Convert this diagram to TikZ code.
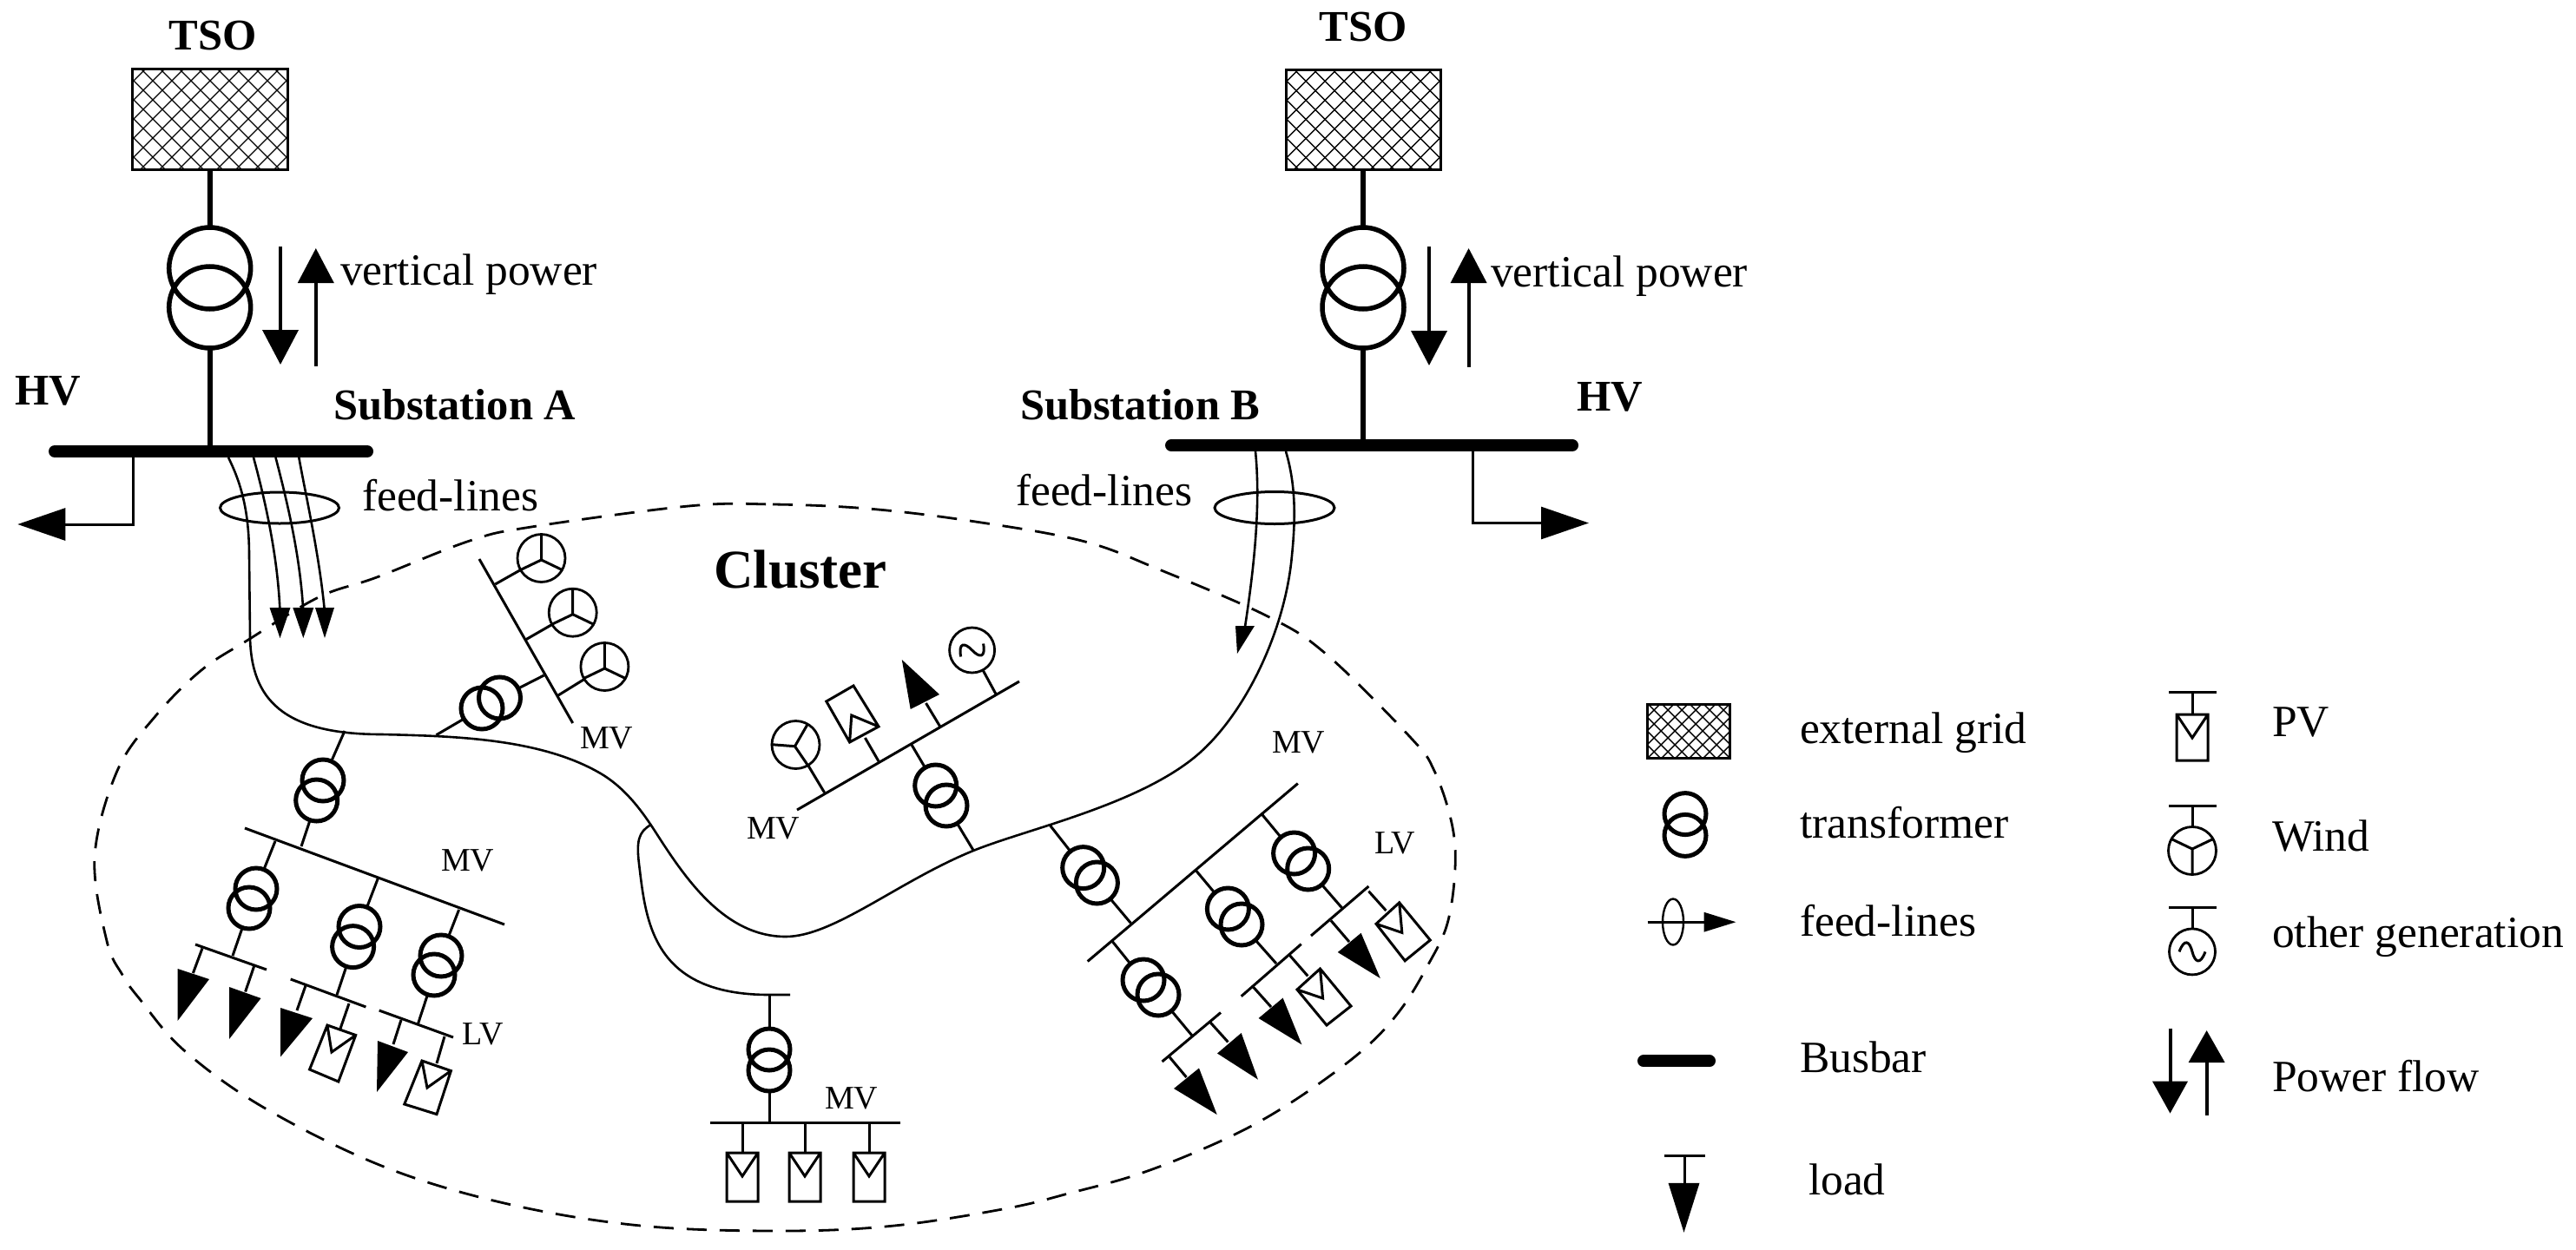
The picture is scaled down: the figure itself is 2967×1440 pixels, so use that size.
\documentclass[tikz,border=0pt]{standalone}
\usepackage{fontspec}
\setmainfont{Liberation Serif}
\usetikzlibrary{calc,arrows.meta,shapes.geometric}
\newcommand{\fA}{\fontsize{51.5}{60}\selectfont}
\newcommand{\fB}{\fontsize{50.5}{60}\selectfont\bfseries}
\newcommand{\fC}{\fontsize{38}{44}\selectfont}
\newcommand{\fD}{\fontsize{63}{70}\selectfont\bfseries}
\tikzset{
 wirew/.style={line width=3pt},
 feedw/.style={line width=2.6pt},
 heavyw/.style={line width=6pt},
 shaftw/.style={line width=4pt},
 busline/.style={line width=14pt,line cap=round},
 txt/.style={anchor=base west,inner sep=0pt,outer sep=0pt},
 xfsmall/.style={circle,draw,line width=5pt,minimum size=48pt,inner sep=0pt,outer sep=0pt},
 xfbig/.style={circle,draw,line width=5.5pt,minimum size=94pt,inner sep=0pt,outer sep=0pt},
 gencirc/.style={circle,draw,line width=2.8pt,minimum size=#1,inner sep=0pt,outer sep=0pt},
 gencirc/.default=55pt,
 ringoval/.style={ellipse,draw,line width=3pt,inner sep=0pt,outer sep=0pt},
 gridbox/.style={draw,line width=3pt,inner sep=0pt,outer sep=0pt,path picture={
   \foreach \k in {-12,...,12}{
     \draw[line width=1.4pt] ($(path picture bounding box.center)+(\k*#1,0)+(-200,-200)$) -- ++(400,400);
     \draw[line width=1.4pt] ($(path picture bounding box.center)+(\k*#1,0)+(-200,200)$) -- ++(400,-400);
   }}},
 bigup/.style={-{Triangle[length=40pt,width=41pt]}},
 stubtip/.style={-{Triangle[length=55pt,width=37pt]}},
}
\newcommand{\seg}[2]{\coordinate (sa) at (#1); \coordinate (sb) at (#2); \draw[wirew] (sa) -- (sb);}
\newcommand{\xf}[5]{%
  \node[xfsmall] (#1a) at (#2) {}; \node[xfsmall] (#1b) at (#3) {};
  \coordinate (#1p) at (#4); \coordinate (#1q) at (#5);
  \draw[wirew] (#1p) -- (#1a); \draw[wirew] (#1b) -- (#1q);}
\newcommand{\loadtri}[3]{\fill (#1) -- (#2) -- (#3) -- cycle;}
\newcommand{\pvsym}[5]{\draw[wirew,line join=miter] (#1) -- (#2) -- (#3) -- (#4) -- cycle (#1) -- (#5) -- (#2);}
\newcommand{\wind}[3]{%
  \node[gencirc] (#1) at (#2) {};
  \begin{scope}[shift={(#2)},rotate=#3]
    \draw[wirew] (0,2) -- (0,-27) (0,2) -- (25,14) (0,2) -- (-25,14);
  \end{scope}}
\newcommand{\sinewave}[3]{%
  \begin{scope}[shift={(#1)},rotate=#2,scale=#3]
    \draw[wirew] (-15,0) .. controls (-9,-16) and (-3,-12) .. (0,0) .. controls (3,12) and (9,16) .. (15,0);
  \end{scope}}
\begin{document}
\begin{tikzpicture}[x=1pt,y=-1pt]
\useasboundingbox (0,0) rectangle (2967,1440);

% ---- cluster boundary
\draw[line width=2.8pt,dash pattern=on 23pt off 15pt] plot[smooth cycle,tension=.6] coordinates {
 (793,583) (890,581) (1000,586) (1117,600) (1246,623) (1335,656) (1460,710) (1528,754) (1625,850) (1652,888) (1672,948) (1676,1000)
 (1667,1064) (1644,1113) (1614,1162) (1575,1205) (1514,1252) (1449,1293) (1380,1326) (1307,1354) (1234,1374) (1160,1392) (1030,1412)
 (900,1418) (738,1412) (585,1387) (442,1344) (304,1276) (212,1210) (161,1151) (141,1123) (123,1084) (109,987) (135,888)
 (179,825) (232,772) (286,737) (367,688) (434,665) (541,623) (612,607)};
\node[txt] (clusterl) at (822,677) {\fD Cluster};

% ---- substation A
\node[gridbox=22,minimum width=178.6pt,minimum height=116pt] (tsoA) at (242,137) {};
\node[txt,anchor=base] (tsoAl) at (245,57) {\fB TSO};
\node[xfbig] (xA1) at (241.7,309) {};
\node[xfbig] (xA2) at (241.7,354) {};
\coordinate (bA1) at (63,520); \coordinate (bA2) at (423,520);
\draw[busline] (bA1) -- (bA2);
\draw[heavyw] (tsoA) -- (xA1);
\draw[heavyw] (xA2) -- (xA2 |- bA1);
\coordinate (dA1) at (323,284); \coordinate (dA2) at (323,420);
\coordinate (uA1) at (363.8,422); \coordinate (uA2) at (363.8,286);
\draw[shaftw,bigup] (dA1) -- (dA2);
\draw[shaftw,bigup] (uA1) -- (uA2);
\node[txt] (vpA) at (392,328) {\fA vertical power};
\node[txt] (hvA) at (17,466) {\fB HV};
\node[txt] (subA) at (384,483) {\fB Substation A};
\coordinate (sA1) at (153.8,525); \coordinate (sA2) at (153.8,604); \coordinate (sA3) at (20.3,604);
\draw[wirew,stubtip] (sA1) -- (sA2) -- (sA3);
\node[ringoval,minimum width=137pt,minimum height=36pt] (ringA) at (322,585) {};
\node[txt] (flA) at (417,588) {\fA feed-lines};

% feed lines A with arrows
\coordinate (fa1) at (292,527); \coordinate (fa2) at (322.5,705);
\coordinate (fb1) at (317.5,527); \coordinate (fb2) at (349.3,705);
\coordinate (fc1) at (344.3,527); \coordinate (fc2) at (374,705);
\draw[feedw] (fa1) .. controls (305,575) and (320,640) .. (fa2);
\draw[feedw] (fb1) .. controls (330,575) and (346,640) .. (fb2);
\draw[feedw] (fc1) .. controls (352,570) and (368,640) .. (fc2);
\loadtri{310.5,700}{334.5,700}{322.5,735}
\loadtri{337.3,700}{361.3,700}{349.3,735}
\loadtri{363,700}{385,700}{374,735}

% ---- substation B
\node[gridbox=22,minimum width=178pt,minimum height=115pt] (tsoB) at (1570,137.5) {};
\node[txt,anchor=base] (tsoBl) at (1570,47) {\fB TSO};
\node[xfbig] (xB1) at (1570,309) {};
\node[xfbig] (xB2) at (1570,354) {};
\coordinate (bB1) at (1349,513); \coordinate (bB2) at (1811,513);
\draw[busline] (bB1) -- (bB2);
\draw[heavyw] (tsoB) -- (xB1);
\draw[heavyw] (xB2) -- (xB2 |- bB1);
\coordinate (dB1) at (1646,284); \coordinate (dB2) at (1646,421);
\coordinate (uB1) at (1691.6,423); \coordinate (uB2) at (1691.6,286);
\draw[shaftw,bigup] (dB1) -- (dB2);
\draw[shaftw,bigup] (uB1) -- (uB2);
\node[txt] (vpB) at (1717,330) {\fA vertical power};
\node[txt] (hvB) at (1816,473) {\fB HV};
\node[txt] (subB) at (1175,483) {\fB Substation B};
\coordinate (sB1) at (1696,518); \coordinate (sB2) at (1696,602.5); \coordinate (sB3) at (1830,602.5);
\draw[wirew,stubtip] (sB1) -- (sB2) -- (sB3);
\node[ringoval,minimum width=138pt,minimum height=37pt] (ringB) at (1468,585) {};
\node[txt] (flB) at (1170,582) {\fA feed-lines};
\coordinate (fd1) at (1446,520); \coordinate (fd2) at (1434,722);
\draw[feedw] (fd1) .. controls (1452,580) and (1445,650) .. (fd2);
\loadtri{1423,721}{1445,721}{1425,753}

% ---- main feeder from A to B, branch
\coordinate (mA) at (263,527); \coordinate (mB) at (1481,520);
\draw[feedw] (mA) .. controls (278,557) and (287,590) .. (287,640) -- (288,733)
 .. controls (289,805) and (325,846) .. (440,846)
 .. controls (520,848) and (620,850) .. (690,890)
 .. controls (720,907) and (740,935) .. (756,960)
 .. controls (790,1013) and (835,1079) .. (905,1079)
 .. controls (960,1079) and (1035,1015) .. (1121,980)
 .. controls (1180,956) and (1300,930) .. (1370,877)
 .. controls (1430,832) and (1480,730) .. (1488,640)
 .. controls (1492,600) and (1493,560) .. (mB);
\coordinate (brS) at (750,950); \coordinate (brE) at (910,1146);
\draw[feedw] (brS) .. controls (735,958) and (733,970) .. (736,995)
 .. controls (744,1060) and (750,1146) .. (886,1146) -- (brE);

% ---- group 1: lower left
\xf{g1t}{372,899}{364.7,922}{397,842}{347,975}
\seg{282,954}{581,1065}
\xf{g1a}{295,1024}{287,1046}{317,969}{268,1101}
\seg{225,1088}{307,1117}
\seg{233,1092.5}{222.4,1121}
\loadtri{204.6,1116}{241,1128}{204.6,1176}
\seg{293,1112}{282.6,1142.5}
\loadtri{264,1137}{300.5,1150}{264,1197}
\xf{g1b}{414,1067.5}{406.6,1090.6}{435.7,1011}{388,1146}
\seg{334.7,1128}{421.4,1160}
\seg{352.5,1134}{342,1164}
\loadtri{323,1161}{360,1173}{323,1217.5}
\seg{402,1156}{392,1185}
\pvsym{377,1181}{409.7,1192.5}{389.8,1246}{356.6,1232}{382,1212}
\xf{g1c}{508,1101}{500,1123}{528.6,1048}{481.6,1179}
\seg{436.7,1164}{522,1195}
\seg{462,1175}{453,1203}
\loadtri{435,1199}{470,1212}{434,1258}
\seg{512,1194}{503,1225}
\pvsym{486,1222}{519.4,1233.6}{503,1283.6}{465.8,1272}{492,1253}
\node[txt] (mv1) at (508,1003) {\fC MV};
\node[txt] (lv1) at (532.6,1203) {\fC LV};

% ---- group 2: wind at the top
\xf{g2t}{555,816}{575.5,804}{502.5,846.7}{626.5,778}
\seg{552,644}{659.7,833}
\wind{w1}{623.5,643}{0}
\wind{w2}{659.7,705.7}{0}
\wind{w3}{696.4,768}{0}
\coordinate (w1p) at (570.4,673); \draw[wirew] (w1p) -- (w1);
\coordinate (w2p) at (605.3,737); \draw[wirew] (w2p) -- (w2);
\coordinate (w3p) at (641.8,801.7); \draw[wirew] (w3p) -- (w3);
\node[txt] (mv2) at (668,862.7) {\fC MV};

% ---- group 3: centre
\xf{g3t}{1077.7,905}{1090,928}{1050,858}{1121.4,980}
\seg{918,933}{1174,785}
\wind{w4}{916.5,858}{-30}
\coordinate (w4p) at (949.6,913); \draw[wirew] (w4p) -- (w4);
\seg{1012,877}{996.4,850}
\pvsym{1012,837}{978.6,855}{951.8,808}{983,790}{980.8,824}
\seg{1082.6,836.7}{1066.5,810}
\loadtri{1048.7,817}{1082,800}{1038.8,760}
\node[gencirc=52pt] (og1) at (1119.6,749) {};
\coordinate (og1p) at (1147.3,800); \draw[wirew] (og1p) -- (og1);
\sinewave{1119.6,749}{30}{1}
\node[txt] (mv3) at (860,966.7) {\fC MV};

% ---- group 4: centre bottom
\xf{g4t}{886,1209}{886,1233}{886,1146}{886,1293}
\seg{818,1293}{1037,1293}
\seg{855,1293}{855,1328}
\pvsym{837,1328}{873,1328}{873,1384}{837,1384}{855,1355}
\seg{927,1293}{927,1328}
\pvsym{909,1328}{945,1328}{945,1384}{909,1384}{927,1355}
\seg{1001,1293}{1001,1328}
\pvsym{983,1328}{1019,1328}{1019,1384}{983,1384}{1001,1355}
\node[txt] (mv4) at (950,1277) {\fC MV};

% ---- group 5: right
\xf{g5t}{1247.7,999.6}{1263.4,1017}{1209.4,950.8}{1302.5,1063.5}
\seg{1252.7,1107.5}{1494.8,902.6}
\xf{g5a}{1317,1129}{1334,1146}{1280,1083}{1373,1193}
\seg{1338.5,1223}{1406,1166.5}
\seg{1347,1217.7}{1366.5,1241}
\loadtri{1352,1254}{1381,1230.5}{1401.7,1284}
\seg{1393.3,1177}{1414.4,1200.4}
\loadtri{1402,1213.5}{1429.7,1190}{1448.9,1243.6}
\xf{g5b}{1414.4,1047}{1430,1065}{1376.8,1002}{1470,1110}
\seg{1429.7,1147.7}{1498.7,1087.6}
\seg{1443,1136.5}{1464,1160}
\loadtri{1449.6,1173}{1477.6,1149.6}{1499.4,1203.4}
\seg{1485,1100}{1506.3,1124.4}
\pvsym{1494,1140}{1520.5,1116}{1556,1159}{1528,1181}{1523.6,1150}
\xf{g5c}{1490.6,983}{1506.7,1001}{1453.4,938}{1546.6,1047}
\seg{1510,1078}{1576.4,1021}
\seg{1533,1060.5}{1554,1085}
\loadtri{1540.8,1097}{1567.6,1074.8}{1589.8,1127}
\seg{1576.4,1026.7}{1596.4,1049}
\pvsym{1585,1064.3}{1611.7,1039.8}{1647.3,1083}{1618.2,1106.8}{1614.8,1074.4}
\node[txt] (mv5) at (1465,867) {\fC MV};
\node[txt] (lv5) at (1583,983.5) {\fC LV};

% ---- legend, left column
\node[gridbox=16,minimum width=95pt,minimum height=62pt] (lgrid) at (1945,842) {};
\node[txt] (tgrid) at (2073,856) {\fA external grid};
\node[xfsmall] (lx1) at (1941,937.6) {};
\node[xfsmall] (lx2) at (1941,962.4) {};
\node[txt] (tx) at (2073,965) {\fA transformer};
\coordinate (lf1) at (1897.6,1062.2); \coordinate (lf2) at (1999.6,1062.2);
\draw[wirew,-{Triangle[length=37pt,width=22pt]}] (lf1) -- (lf2);
\node[ringoval,line width=2.4pt,minimum width=24pt,minimum height=53pt] (lring) at (1927,1062) {};
\node[txt] (tf) at (2073,1078.5) {\fA feed-lines};
\coordinate (lb1) at (1893,1222.4); \coordinate (lb2) at (1969,1222.4);
\draw[busline] (lb1) -- (lb2);
\node[txt] (tb) at (2073,1235) {\fA Busbar};
\seg{1916.5,1331}{1964,1331}
\seg{1940,1331}{1940,1364}
\loadtri{1921.5,1362.8}{1957.5,1362.8}{1939.5,1419.8}
\node[txt] (tl) at (2083,1376) {\fA load};

% ---- legend, right column
\seg{2498,797.7}{2553,797.7}
\seg{2525,797.7}{2525,823}
\pvsym{2507,823}{2543,823}{2543,876}{2507,876}{2525,850}
\node[txt] (tpv) at (2617,848) {\fA PV};
\seg{2498,928.3}{2553,928.3}
\wind{lw}{2525,980}{180}
\coordinate (lwp) at (2525,928.3); \draw[wirew] (lwp) -- (lw);
\node[txt] (tw) at (2617,980.5) {\fA Wind};
\seg{2498,1045.4}{2553,1045.4}
\node[gencirc=53pt] (log) at (2525,1096.4) {};
\coordinate (logp) at (2525,1045.4); \draw[wirew] (logp) -- (log);
\sinewave{2525,1096.4}{0}{1}
\node[txt] (tog) at (2617,1091.4) {\fA other generation};
\coordinate (pd1) at (2499.5,1184.7); \coordinate (pd2) at (2499.5,1282.6);
\coordinate (pu1) at (2541.6,1285); \coordinate (pu2) at (2541.6,1187);
\draw[shaftw,-{Triangle[length=37pt,width=40pt]}] (pd1) -- (pd2);
\draw[shaftw,-{Triangle[length=37pt,width=41pt]}] (pu1) -- (pu2);
\node[txt] (tpf) at (2617,1257) {\fA Power flow};
\end{tikzpicture}
\end{document}
